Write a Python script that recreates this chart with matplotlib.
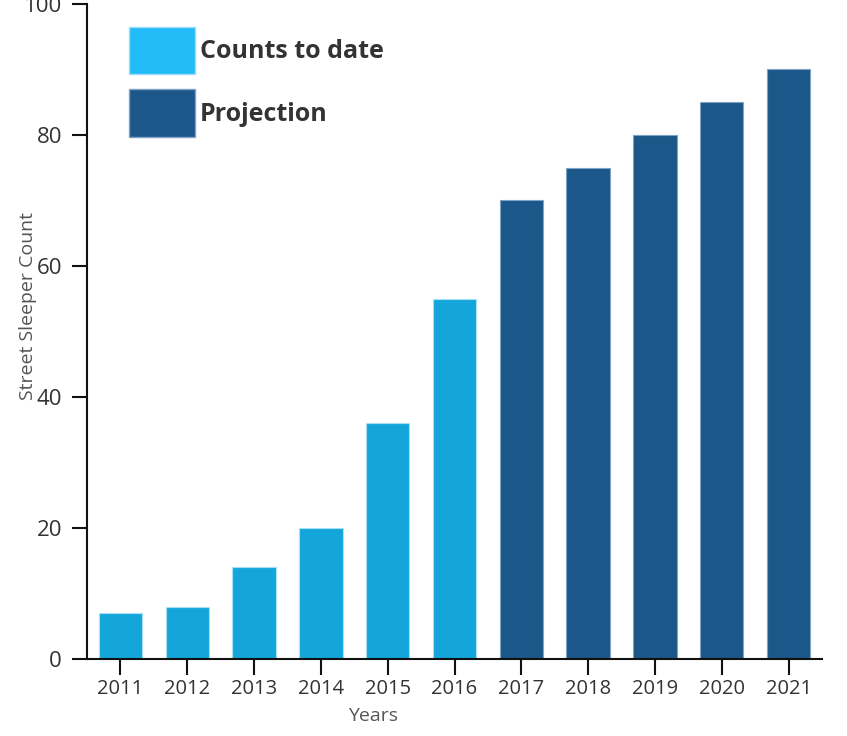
import matplotlib
matplotlib.use("Agg")
import matplotlib.pyplot as plt
from matplotlib.patches import Patch

# data
years = [2011, 2012, 2013, 2014, 2015, 2016, 2017, 2018, 2019, 2020, 2021]
counts = [7, 8, 14, 20, 36, 55, 70, 75, 80, 85, 90]
is_projection = [False, False, False, False, False, False, True, True, True, True, True]
legend_labels = ["Counts to date", "Projection"]

light = "#14a6da"
dark = "#1b5789"

plt.rcParams["font.family"] = ["Open Sans", "DejaVu Sans"]

fig = plt.figure(figsize=(8.47, 7.36), dpi=100)
ax = fig.add_axes([87 / 847, 77 / 736, (822 - 87) / 847, (659 - 4) / 736])

colors = [dark if p else light for p in is_projection]
edges = ["#7fa3c6" if p else "#a6e0f5" for p in is_projection]
ax.bar(years, counts, width=0.65, color=colors, edgecolor=edges, linewidth=0.8)

ax.set_xlim(2010.5, 2021.5)
ax.set_ylim(0, 100)
ax.set_xticks(years)
ax.set_yticks([0, 20, 40, 60, 80, 100])

for s in ["top", "right"]:
    ax.spines[s].set_visible(False)
for s in ["left", "bottom"]:
    ax.spines[s].set_linewidth(1.5)
    ax.spines[s].set_color("#111111")

ax.tick_params(axis="y", length=11, width=1.5, pad=7, labelsize=16, labelcolor="#333333", color="#111111")
ax.tick_params(axis="x", length=11.5, width=1.5, pad=3, labelsize=14.5, labelcolor="#333333", color="#111111")

ax.set_xlabel("Years", fontsize=14, color="#555555")
ax.xaxis.set_label_coords(0.389, -0.073)
ax.set_ylabel("Street Sleeper Count", fontsize=14, color="#555555")
ax.yaxis.set_label_coords(-0.068, 0.539)

handles = [Patch(facecolor="#22bcf9", edgecolor="#9fdcf8"),
           Patch(facecolor=dark, edgecolor="#7fa3c6")]
leg = ax.legend(handles, legend_labels, loc="upper left",
                bbox_to_anchor=(129 / 847, 1 - 27 / 736), bbox_transform=fig.transFigure,
                frameon=False, borderpad=0, borderaxespad=0,
                handlelength=2.64, handleheight=2.54, labelspacing=0.6, handletextpad=0.2,
                prop={"size": 18, "weight": "bold"})
for t in leg.get_texts():
    t.set_color("#333333")

fig.savefig("out.png", dpi=100)
